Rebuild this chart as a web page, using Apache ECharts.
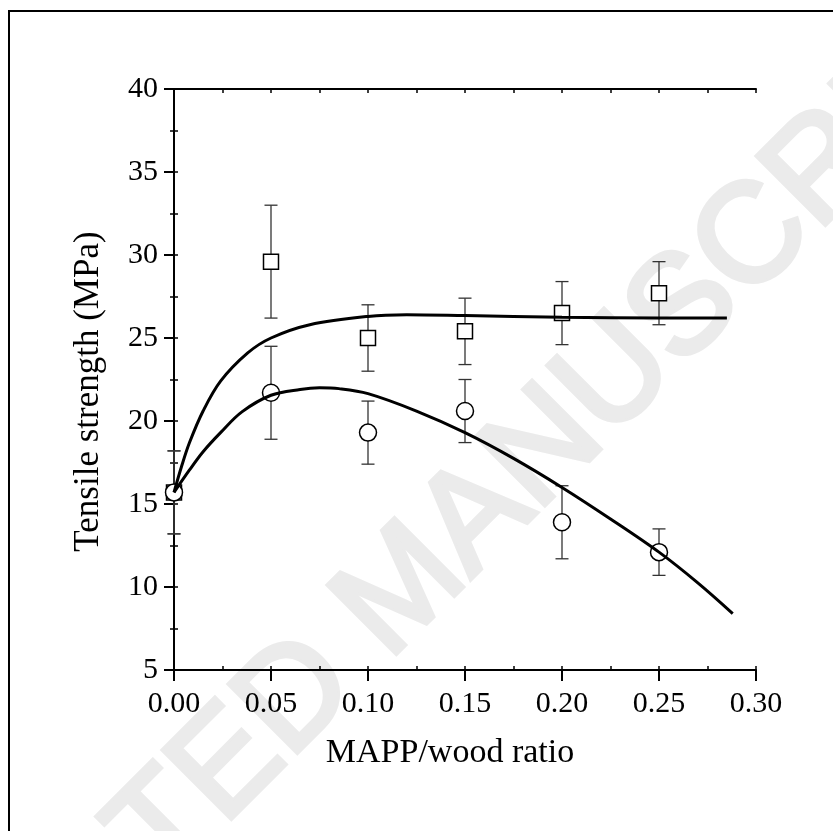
<!DOCTYPE html>
<html>
<head>
<meta charset="utf-8">
<script src="https://cdn.jsdelivr.net/npm/echarts@6/dist/echarts.min.js"></script>
<style>
html,body{margin:0;padding:0;background:#fff;}
#chart{width:833px;height:831px;}
</style>
</head>
<body>
<div id="chart"></div>
<script>
// ---- data ----
const ratios = [0.00, 0.05, 0.10, 0.15, 0.20, 0.25];
const squareMean = [15.7, 29.6, 25.0, 25.4, 26.5, 27.7];
const squareLow  = [13.2, 26.2, 23.0, 23.4, 24.6, 25.8];
const squareHigh = [18.2, 33.0, 27.0, 27.4, 28.4, 29.6];
const circleMean = [15.7, 21.7, 19.3, 20.6, 13.9, 12.1];
const circleLow  = [13.2, 18.9, 17.4, 18.7, 11.7, 10.7];
const circleHigh = [18.2, 24.5, 21.2, 22.5, 16.1, 13.5];
const squareFitX = [0, 0.004, 0.008, 0.015, 0.024, 0.038, 0.05, 0.07, 0.10, 0.12, 0.15, 0.20, 0.25, 0.285];
const squareFitY = [15.7, 17.3, 18.7, 20.6, 22.4, 24.1, 25.0, 25.8, 26.3, 26.4, 26.35, 26.25, 26.2, 26.2];
const circleFitX = [0, 0.008, 0.015, 0.024, 0.035, 0.05, 0.065, 0.075, 0.085, 0.10, 0.125, 0.15, 0.175, 0.20, 0.225, 0.25, 0.27, 0.288];
const circleFitY = [15.7, 17.05, 18.15, 19.3, 20.55, 21.55, 21.9, 22.0, 21.95, 21.65, 20.6, 19.3, 17.75, 16.0, 14.1, 12.1, 10.25, 8.4];
const xTicks = [0, 0.3, 0.05];   // min, max, interval
const yTicks = [5, 40, 5];

const FONT = 'Liberation Serif';

function errData(lo, hi) { return ratios.map((x, i) => [x, lo[i], hi[i]]); }
function errRender(params, api) {
  const x = api.value(0);
  const pLo = api.coord([x, api.value(1)]);
  const pHi = api.coord([x, api.value(2)]);
  const hw = 6.5;
  const st = {stroke: '#333', lineWidth: 1.3};
  return {type: 'group', children: [
    {type: 'line', shape: {x1: pLo[0], y1: pLo[1], x2: pHi[0], y2: pHi[1]}, style: st},
    {type: 'line', shape: {x1: pLo[0]-hw, y1: pLo[1], x2: pLo[0]+hw, y2: pLo[1]}, style: st},
    {type: 'line', shape: {x1: pHi[0]-hw, y1: pHi[1], x2: pHi[0]+hw, y2: pHi[1]}, style: st}
  ]};
}

const chart = echarts.init(document.getElementById('chart'), null, {renderer: 'canvas'});
const axLine = {show: true, lineStyle: {color: '#000', width: 2}};
const option = {
  backgroundColor: '#fff',
  animation: false,
  graphic: [
    {type: 'rect', z: -5, silent: true, shape: {x: 9, y: 11, width: 900, height: 900},
     style: {fill: null, stroke: '#000', lineWidth: 2}},
    {type: 'text', z: -10, silent: true, x: 405, y: 590, rotation: 45 * Math.PI / 180,
     style: {text: 'ACCEPTED MANUSCRIPT', font: 'normal 140px "Liberation Sans"', fill: '#ebebeb',
             stroke: '#ebebeb', lineWidth: 5,
             align: 'center', verticalAlign: 'middle'}}
  ],
  grid: {left: 174, top: 89, width: 582, height: 581, containLabel: false},
  xAxis: [
    {type: 'value', position: 'bottom', min: xTicks[0], max: xTicks[1], interval: xTicks[2],
     axisLine: axLine, splitLine: {show: false},
     axisTick: {show: true, inside: false, length: 11, lineStyle: {color: '#000', width: 2}},
     axisLabel: {margin: 19, color: '#000', fontFamily: FONT, fontSize: 30,
                 formatter: v => v.toFixed(2)},
     name: 'MAPP/wood ratio', nameLocation: 'middle', nameGap: 66,
     nameTextStyle: {fontFamily: FONT, fontSize: 34, color: '#000', padding: [0, 30, 0, 0]}},
    {type: 'value', position: 'bottom', min: 0, max: 0.3, interval: 0.025,
     axisLine: {show: false}, splitLine: {show: false}, axisLabel: {show: false},
     axisTick: {show: true, inside: true, length: 4, lineStyle: {color: '#000', width: 1.5}}},
    {type: 'value', position: 'top', min: 0, max: 0.3, interval: 0.025,
     axisLine: axLine, splitLine: {show: false}, axisLabel: {show: false},
     axisTick: {show: true, inside: true, length: 4, lineStyle: {color: '#000', width: 1.5}}}
  ],
  yAxis: [
    {type: 'value', position: 'left', min: yTicks[0], max: yTicks[1], interval: yTicks[2],
     axisLine: axLine, splitLine: {show: false},
     axisTick: {show: true, inside: false, length: 10, lineStyle: {color: '#000', width: 2}},
     axisLabel: {margin: 16, color: '#000', fontFamily: FONT, fontSize: 30},
     name: 'Tensile strength (MPa)', nameLocation: 'middle', nameGap: 68, nameRotate: 90,
     nameTextStyle: {fontFamily: FONT, fontSize: 35, color: '#000', padding: [0, 24, 0, 0]}},
    {type: 'value', position: 'left', min: 5, max: 40, interval: 2.5,
     axisLine: {show: false}, splitLine: {show: false}, axisLabel: {show: false},
     axisTick: {show: true, inside: true, length: 4, lineStyle: {color: '#000', width: 1.5}}},
    {type: 'value', position: 'right', min: 5, max: 40, interval: 2.5,
     axisLine: axLine, splitLine: {show: false}, axisLabel: {show: false},
     axisTick: {show: true, inside: true, length: 4, lineStyle: {color: '#000', width: 1.5}}}
  ],
  series: [
    {type: 'custom', name: 'sqErr', renderItem: errRender, data: errData(squareLow, squareHigh),
     encode: {x: 0, y: [1, 2]}, clip: false, z: 2, silent: true},
    {type: 'custom', name: 'ciErr', renderItem: errRender, data: errData(circleLow, circleHigh),
     encode: {x: 0, y: [1, 2]}, clip: false, z: 2, silent: true},
    {type: 'scatter', name: 'square', symbol: 'rect', symbolSize: 15, z: 3,
     data: ratios.map((x, i) => [x, squareMean[i]]),
     itemStyle: {color: '#fff', borderColor: '#000', borderWidth: 1.5, opacity: 1}},
    {type: 'scatter', name: 'circle', symbol: 'circle', symbolSize: 17, z: 3,
     data: ratios.map((x, i) => [x, circleMean[i]]),
     itemStyle: {color: '#fff', borderColor: '#000', borderWidth: 1.5, opacity: 1}},
    {type: 'line', name: 'squareFit', smooth: 0.35, showSymbol: false, z: 4,
     data: squareFitX.map((x, i) => [x, squareFitY[i]]),
     lineStyle: {color: '#000', width: 3}},
    {type: 'line', name: 'circleFit', smooth: 0.35, showSymbol: false, z: 4,
     data: circleFitX.map((x, i) => [x, circleFitY[i]]),
     lineStyle: {color: '#000', width: 3}}
  ]
};
chart.setOption(option);
</script>
</body>
</html>
